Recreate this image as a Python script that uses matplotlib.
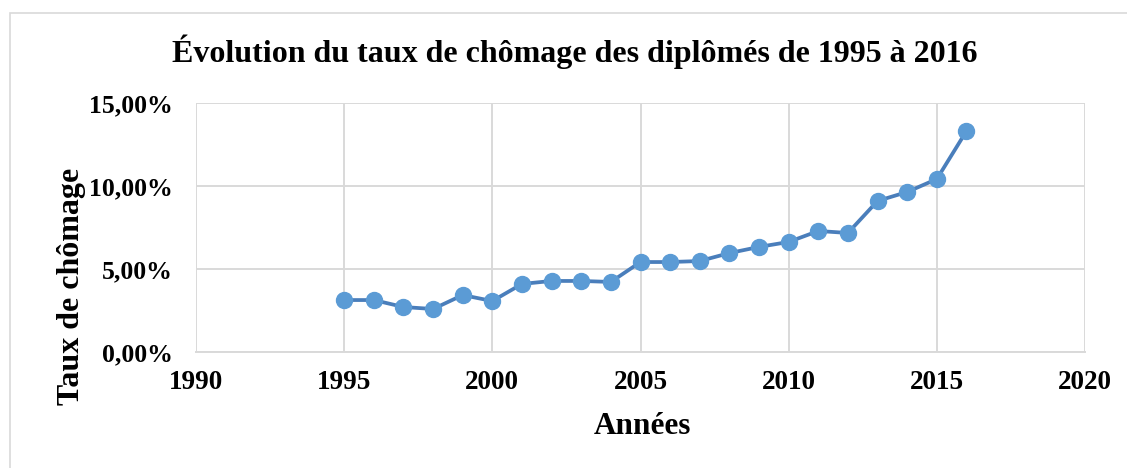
import matplotlib.pyplot as plt
from matplotlib.patches import Rectangle
from matplotlib.ticker import FuncFormatter, MultipleLocator

annees = [1995, 1996, 1997, 1998, 1999, 2000, 2001, 2002, 2003, 2004, 2005,
          2006, 2007, 2008, 2009, 2010, 2011, 2012, 2013, 2014, 2015, 2016]
taux = [3.13, 3.13, 2.71, 2.59, 3.43, 3.07, 4.10, 4.28, 4.28, 4.22, 5.42,
        5.42, 5.48, 5.96, 6.33, 6.63, 7.29, 7.17, 9.10, 9.64, 10.42, 13.31]

plt.rcParams['font.family'] = ['Liberation Serif', 'DejaVu Serif']
plt.rcParams['font.weight'] = 'bold'

W, H = 1127, 468
fig = plt.figure(figsize=(W / 100, H / 100), dpi=100)
fig.patches.append(Rectangle((10 / W, -0.05), 1.2, 1 - 13 / H + 0.05,
                             transform=fig.transFigure, fill=False,
                             edgecolor='#D9D9D9', linewidth=1.2))

ax = fig.add_axes([196 / W, 1 - 352 / H, (1085 - 196) / W, (352 - 103) / H])
ax.plot(annees, taux, color='#4A7EBB', linewidth=2.7, marker='o',
        markersize=11.5, markerfacecolor='#5B9BD5', markeredgecolor='#5B9BD5',
        zorder=3, clip_on=False)

ax.set_xlim(1990, 2020)
ax.set_ylim(0, 15)
ax.xaxis.set_major_locator(MultipleLocator(5))
ax.yaxis.set_major_locator(MultipleLocator(5))
ax.yaxis.set_major_formatter(FuncFormatter(lambda v, p: f"{v:.2f}".replace('.', ',') + '%'))
ax.grid(True, color='#D9D9D9', linewidth=1.4)
ax.set_axisbelow(True)
for s in ['top', 'right', 'left']:
    ax.spines[s].set_visible(False)
ax.spines['bottom'].set_color('#D9D9D9')
ax.spines['bottom'].set_linewidth(1.4)
ax.tick_params(axis='x', length=0, labelsize=19.5, pad=13)
ax.tick_params(axis='y', length=0, labelsize=18.5, pad=17)
for lab in ax.get_xticklabels() + ax.get_yticklabels():
    lab.set_fontweight('bold')

pw, ph = 1085 - 196, 352 - 103
xl = ax.set_xlabel('Années', fontsize=22.5, fontweight='bold')
xl.set_va('center')
ax.xaxis.set_label_coords((642 - 196) / pw, (352 - 427) / ph)
yl = ax.set_ylabel('Taux de chômage', fontsize=23, fontweight='bold')
yl.set_va('center')
ax.yaxis.set_label_coords((71 - 196) / pw, (352 - 286) / ph)

fig.text(575 / W, 1 - 52 / H, 'Évolution du taux de chômage des diplômés de 1995 à 2016',
         ha='center', va='center', fontsize=23, fontweight='bold')

fig.savefig('out.png', dpi=100)
